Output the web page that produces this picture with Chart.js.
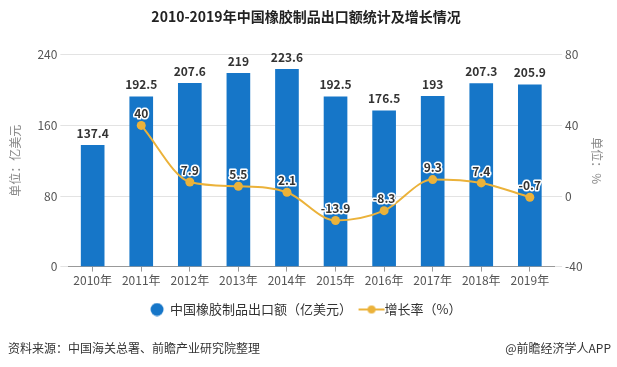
<!DOCTYPE html>
<html>
<head>
<meta charset="utf-8">
<script src="https://cdn.jsdelivr.net/npm/chart.js@4"></script>
<style>
  body { margin: 0; background: #fff; }
  #wrap { position: relative; width: 617px; height: 367px; }
</style>
</head>
<body>
<div id="wrap"><canvas id="exportChart"></canvas></div>
<script>
const years = ["2010年", "2011年", "2012年", "2013年", "2014年", "2015年", "2016年", "2017年", "2018年", "2019年"];
const exportValue = [137.4, 192.5, 207.6, 219, 223.6, 192.5, 176.5, 193, 207.3, 205.9]; // 亿美元
const growthRate = [null, 40, 7.9, 5.5, 2.1, -13.9, -8.3, 9.3, 7.4, -0.7]; // %

const BLUE = "#1676c8";
const ORANGE = "#ebb23a";
const FONT = "'Noto Sans CJK SC', 'Noto Sans', sans-serif";

// legend icons
function makeIcon(kind) {
  const c = document.createElement("canvas");
  c.width = 30; c.height = 14;
  const g = c.getContext("2d");
  if (kind === "bar") {
    g.fillStyle = BLUE;
    g.beginPath(); g.arc(15, 7, 6.5, 0, Math.PI * 2); g.fill();
  } else {
    g.strokeStyle = ORANGE; g.lineWidth = 2;
    g.beginPath(); g.moveTo(2, 7); g.lineTo(28, 7); g.stroke();
    g.fillStyle = ORANGE;
    g.beginPath(); g.arc(15, 7, 4, 0, Math.PI * 2); g.fill();
  }
  return c;
}

const labelPlugin = {
  id: "valueLabels",
  afterDatasetsDraw(chart) {
    const ctx = chart.ctx;
    ctx.save();
    ctx.textAlign = "center";
    ctx.textBaseline = "bottom";
    ctx.font = "bold 12px " + FONT;
    chart.getDatasetMeta(0).data.forEach((el, i) => {
      ctx.fillStyle = "#333";
      ctx.fillText(String(exportValue[i]), el.x, el.y - 6);
    });
    chart.getDatasetMeta(1).data.forEach((el, i) => {
      if (growthRate[i] === null) return;
      const t = String(growthRate[i]);
      ctx.lineWidth = 3;
      ctx.strokeStyle = "#fff";
      ctx.lineJoin = "round";
      ctx.strokeText(t, el.x, el.y - 6);
      ctx.fillStyle = "#333";
      ctx.fillText(t, el.x, el.y - 6);
    });
    ctx.restore();
  },
};

const footerPlugin = {
  id: "footerText",
  afterDraw(chart) {
    const ctx = chart.ctx;
    ctx.save();
    ctx.font = "12px " + FONT;
    ctx.fillStyle = "#333";
    ctx.textBaseline = "middle";
    ctx.textAlign = "left";
    ctx.fillText("资料来源：中国海关总署、前瞻产业研究院整理", 8, 348);
    ctx.textAlign = "right";
    ctx.fillText("@前瞻经济学人APP", 611, 348);
    ctx.restore();
  },
};

document.addEventListener("DOMContentLoaded", () => {
  new Chart(document.getElementById("exportChart"), {
    type: "bar",
    data: {
      labels: years,
      datasets: [
        {
          label: "中国橡胶制品出口额（亿美元）",
          data: exportValue,
          backgroundColor: BLUE,
          barThickness: 23,
          yAxisID: "y",
          order: 2,
        },
        {
          type: "line",
          label: "增长率（%）",
          data: growthRate,
          borderColor: ORANGE,
          backgroundColor: ORANGE,
          borderWidth: 2,
          pointRadius: 4.5,
          pointBorderWidth: 0,
          cubicInterpolationMode: "monotone",
          spanGaps: false,
          yAxisID: "y1",
          order: 1,
        },
      ],
    },
    options: {
      responsive: true,
      maintainAspectRatio: false,
      animation: false,
      layout: { padding: { left: 4, right: 9, bottom: 41 } },
      plugins: {
        title: {
          display: true,
          text: "2010-2019年中国橡胶制品出口额统计及增长情况",
          color: "#222",
          font: { family: FONT, size: 14, weight: "bold" },
          padding: { top: 8, bottom: 30 },
        },
        legend: {
          position: "bottom",
          labels: {
            usePointStyle: true,
            color: "#333",
            font: { family: FONT, size: 13 },
            padding: 13,
            generateLabels: (chart) =>
              chart.data.datasets.map((ds, i) => ({
                text: ds.label,
                pointStyle: makeIcon(i === 0 ? "bar" : "line"),
                datasetIndex: i,
                fontColor: "#333",
                hidden: false,
              })),
          },
        },
        tooltip: { enabled: false },
      },
      scales: {
        x: {
          offset: true,
          grid: { offset: false, drawOnChartArea: false, tickLength: 5, color: "#999" },
          border: { color: "#999" },
          ticks: { color: "#555", font: { family: FONT, size: 12 }, padding: 2 },
        },
        y: {
          position: "left",
          min: 0,
          max: 240,
          ticks: { stepSize: 80, color: "#555", font: { family: FONT, size: 12 } },
          grid: { color: "#e3e3e3", tickLength: 8 },
          border: { display: false },
          title: { display: true, text: "单位：亿美元", color: "#888", font: { family: FONT, size: 12 }, padding: { top: 4, bottom: 12 } },
        },
        y1: {
          position: "right",
          min: -40,
          max: 80,
          ticks: { stepSize: 40, color: "#555", font: { family: FONT, size: 12 } },
          grid: { drawOnChartArea: false, color: "#e3e3e3", tickLength: 8 },
          border: { display: false },
          title: { display: true, text: "单位：%", color: "#888", font: { family: FONT, size: 12 } },
        },
      },
    },
    plugins: [labelPlugin, footerPlugin],
  });
});
</script>
</body>
</html>
